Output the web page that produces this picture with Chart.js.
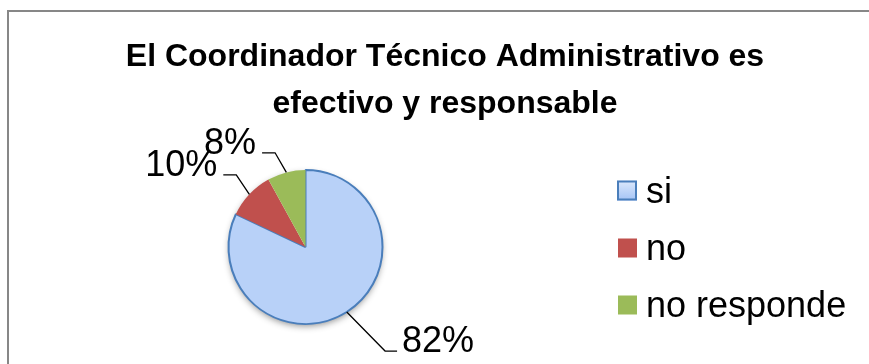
<!DOCTYPE html>
<html>
<head>
<meta charset="utf-8">
<script src="https://cdn.jsdelivr.net/npm/chart.js@4.4.1/dist/chart.umd.min.js"></script>
<style>
  html, body { margin: 0; padding: 0; background: #fff; }
  #chart { display: block; }
</style>
</head>
<body>
<canvas id="chart" width="869" height="364"></canvas>
<script>
// Datos
const categorias = ['si', 'no', 'no responde'];
const valores = [82, 10, 8];
const titulo = ['El Coordinador Técnico Administrativo es', 'efectivo y responsable'];

const colores = ['#b8d1f8', '#c0504d', '#9bbb59'];
const bordes = ['#4a7ebb', '#c0504d', '#9bbb59'];

// ajustes de las etiquetas (distancia extra del codo y giro en grados)
const etiquetaExtra = [54, 23, 22];
const etiquetaGiro = [-5, 3, -3.5];

function gradienteSi(ctx, top, bottom) {
    const g = ctx.createLinearGradient(0, top, 0, bottom);
    g.addColorStop(0, '#dde9fc');
    g.addColorStop(1, '#a4c3f5');
    return g;
}

// Marco gris y título
const marco = {
    id: 'marco',
    beforeDraw(chart) {
        const ctx = chart.ctx;
        ctx.save();
        ctx.fillStyle = '#fff';
        ctx.fillRect(0, 0, chart.width, chart.height);
        ctx.strokeStyle = '#878787';
        ctx.lineWidth = 2;
        ctx.strokeRect(8, 11, 1000, 1000);

        ctx.fillStyle = '#000';
        ctx.font = 'bold 32px "Liberation Sans Narrow", "Liberation Sans", sans-serif';
        ctx.textAlign = 'center';
        ctx.textBaseline = 'middle';
        titulo.forEach((linea, i) => {
            ctx.fillText(linea, 445, 57 + i * 47);
        });
        ctx.restore();
    }
};

// Sombra debajo del pastel
const sombra = {
    id: 'sombra',
    beforeDatasetsDraw(chart) {
        const arc = chart.getDatasetMeta(0).data[0];
        if (!arc) return;
        const ctx = chart.ctx;
        ctx.save();
        ctx.shadowColor = 'rgba(0,0,0,0.45)';
        ctx.shadowBlur = 7;
        ctx.shadowOffsetY = 3;
        ctx.shadowOffsetX = 0;
        ctx.fillStyle = '#fff';
        ctx.beginPath();
        ctx.arc(arc.x, arc.y, arc.outerRadius - 1, 0, Math.PI * 2);
        ctx.fill();
        ctx.restore();
    }
};

// Etiquetas de porcentaje con líneas guía
const etiquetas = {
    id: 'etiquetas',
    afterDatasetsDraw(chart) {
        const ctx = chart.ctx;
        const meta = chart.getDatasetMeta(0);
        const datos = chart.data.datasets[0].data;
        const total = datos.reduce((a, b) => a + b, 0);
        ctx.save();
        ctx.font = '36px "Liberation Sans", Arial, sans-serif';
        ctx.fillStyle = '#000';
        ctx.strokeStyle = '#000';
        ctx.lineWidth = 1.3;
        ctx.textBaseline = 'alphabetic';
        meta.data.forEach((arc, i) => {
            const mid = (arc.startAngle + arc.endAngle) / 2;
            const r = arc.outerRadius;
            const p0 = { x: arc.x + r * Math.cos(mid), y: arc.y + r * Math.sin(mid) };
            const a2 = mid + etiquetaGiro[i] * Math.PI / 180;
            const d = r + etiquetaExtra[i];
            const p1 = { x: arc.x + d * Math.cos(a2), y: arc.y + d * Math.sin(a2) };
            const derecha = Math.cos(mid) >= 0;
            const p2 = { x: p1.x + (derecha ? 12 : -13), y: p1.y };
            ctx.beginPath();
            ctx.moveTo(p0.x, p0.y);
            ctx.lineTo(p1.x, p1.y);
            ctx.lineTo(p2.x, p2.y);
            ctx.stroke();
            const txt = Math.round(datos[i] / total * 100) + '%';
            ctx.textAlign = derecha ? 'left' : 'right';
            ctx.fillText(txt, p2.x + (derecha ? 5 : -6), p1.y + 1);
        });
        ctx.restore();
    }
};

// Leyenda a la derecha
const leyenda = {
    id: 'leyenda',
    afterDraw(chart) {
        const ctx = chart.ctx;
        const x = 617;
        const y0 = 190.5;
        const paso = 57;
        ctx.save();
        ctx.font = '36px "Liberation Sans", Arial, sans-serif';
        ctx.textBaseline = 'alphabetic';
        ctx.textAlign = 'left';
        chart.data.labels.forEach((lab, i) => {
            const cy = y0 + i * paso;
            if (i === 0) {
                ctx.fillStyle = gradienteSi(ctx, cy - 10, cy + 10);
                ctx.fillRect(x, cy - 10, 20, 20);
                ctx.strokeStyle = bordes[0];
                ctx.lineWidth = 2;
                ctx.strokeRect(x + 1, cy - 9, 18, 18);
            } else {
                ctx.fillStyle = colores[i];
                ctx.fillRect(x + 1, cy - 9, 19, 19);
            }
            ctx.fillStyle = '#000';
            ctx.fillText(lab, x + 29, cy + 12);
        });
        ctx.restore();
    }
};

new Chart(document.getElementById('chart'), {
    type: 'pie',
    data: {
        labels: categorias,
        datasets: [{
            data: valores,
            backgroundColor: (c) => {
                if (c.dataIndex !== 0) return colores[c.dataIndex];
                const arc = c.chart.getDatasetMeta(0).data[0];
                if (!arc || !arc.outerRadius) return colores[0];
                return gradienteSi(c.chart.ctx, arc.y - arc.outerRadius, arc.y + arc.outerRadius);
            },
            borderColor: bordes,
            borderWidth: [2, 0, 0],
            hoverOffset: 0
        }]
    },
    options: {
        responsive: false,
        animation: false,
        events: [],
        layout: { padding: { left: 20, right: 278, top: 169, bottom: 39 } },
        plugins: {
            legend: { display: false },
            tooltip: { enabled: false },
            title: { display: false }
        }
    },
    plugins: [marco, sombra, etiquetas, leyenda]
});
</script>
</body>
</html>
